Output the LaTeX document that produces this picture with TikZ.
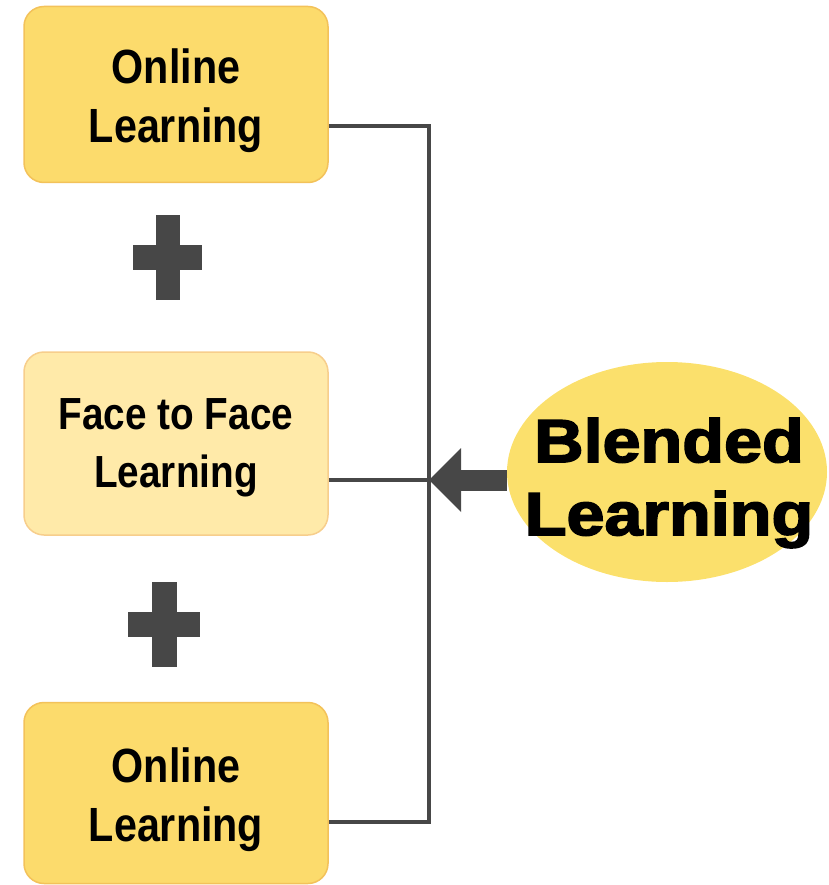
\documentclass[tikz,border=0pt]{standalone}
\usepackage{fontspec}
\setmainfont{Liberation Sans}
\newfontfamily\blackfont[FakeBold=2.5]{Liberation Sans Bold}
\usetikzlibrary{positioning}
\usetikzlibrary{shapes}
\usetikzlibrary{arrows.meta}

\definecolor{goldfill}{HTML}{FCDB6C}
\definecolor{goldedge}{HTML}{F3C25A}
\definecolor{palefill}{HTML}{FFEAA9}
\definecolor{paleedge}{HTML}{F7CE8C}
\definecolor{ovalfill}{HTML}{FBE06C}
\definecolor{linegray}{HTML}{474747}

\tikzset{
    learnbox/.style={rectangle, rounded corners=20pt, draw=goldedge, line width=1.5pt, fill=goldfill, minimum width=304pt, minimum height=176pt},
    boxtext/.style={align=center, xscale=0.86, font=\bfseries\fontsize{48}{59}\selectfont},
    link/.style={draw=linegray, line width=4pt},
    fatarrow/.style={draw=linegray, line width=21pt, -{Triangle[width=64pt,length=32pt,line width=0pt]}}
}

\begin{document}
\begin{tikzpicture}[x=1pt,y=-1pt]
    % Parameters -- one unit is one pixel of the reference
    \pgfmathsetmacro{\hubx}{429}
    \pgfmathsetmacro{\boxx}{176}

    \useasboundingbox (0,0) rectangle (828,885);

    % Boxes
    \node[learnbox] (onlineA) at (\boxx,94.5) {};
    \node[boxtext] (onlineAtext) at (\boxx,101) {Online\\Learning};
    \node[learnbox, fill=palefill, draw=paleedge, minimum height=183pt] (face) at (\boxx,443.5) {};
    \node[boxtext, font=\bfseries\fontsize{45}{58}\selectfont] (facetext) at (\boxx,448) {Face to Face\\Learning};
    \node[learnbox, minimum height=181pt] (onlineB) at (\boxx,793) {};
    \node[boxtext] (onlineBtext) at (\boxx,800) {Online\\Learning};

    % Plus signs
    \fill[linegray] (156,215) rectangle (180,300);
    \fill[linegray] (133,245) rectangle (202,270);
    \fill[linegray] (152,582) rectangle (177,667);
    \fill[linegray] (128,612) rectangle (200,637);

    % Blended oval
    \node[ellipse, fill=ovalfill, inner sep=0pt, minimum width=320pt, minimum height=220pt] (blended) at (667,472) {};
    \node[align=center, xscale=1.12, font=\blackfont\fontsize{61}{73}\selectfont] (blendedtext) at (669,483) {Blended\\Learning};

    % Connectors
    \coordinate (hub) at (\hubx,480);
    \draw[link] ([yshift=-32pt]onlineA.east) -| (hub) |- ([yshift=-29pt]onlineB.east);
    \draw[link] ([yshift=-36.5pt]face.east) -- (hub);
    \draw[fatarrow] (blended.west |- hub) -- (hub);
\end{tikzpicture}
\end{document}
